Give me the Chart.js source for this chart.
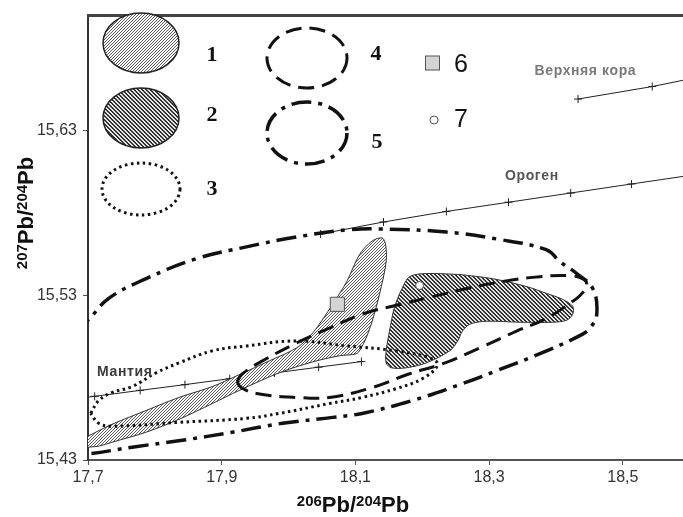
<!DOCTYPE html>
<html>
  <head>
    <meta charset="UTF-8" />
    <title>207Pb/204Pb vs 206Pb/204Pb</title>
    <style>
      html, body { margin: 0; padding: 0; background: #fff; overflow: hidden; }
      #chart { display: block; }
    </style>
  </head>
  <body>
    <canvas id="chart" width="683" height="517"></canvas>
    <script src="https://cdn.jsdelivr.net/npm/chart.js"></script>
    <script>
      // axis ticks
      const xTicks = [17.7, 17.9, 18.1, 18.3, 18.5];
      const yTicks = [15.43, 15.53, 15.63];

      // growth curves
      const mantleX = [17.700, 17.710, 17.778, 17.845, 17.912, 17.979, 18.045, 18.109];
      const mantleY = [15.4682, 15.4687, 15.4723, 15.4758, 15.4794, 15.4829, 15.4864, 15.4898];
      const orogenX = [18.048, 18.142, 18.236, 18.329, 18.422, 18.513, 18.590];
      const orogenY = [15.5673, 15.5746, 15.5810, 15.5866, 15.5922, 15.5977, 15.6023];
      const crustX = [18.433, 18.544, 18.590];
      const crustY = [15.6493, 15.6569, 15.6607];

      // field 1 (light hatch)
      const field1X = [17.700, 17.736, 17.787, 17.836, 17.886, 17.926, 17.971, 18.012, 18.036, 18.066, 18.087, 18.106, 18.125, 18.140, 18.145, 18.146, 18.136, 18.125, 18.116, 18.107, 18.101, 18.076, 18.036, 17.986, 17.926, 17.886, 17.836, 17.787, 17.736, 17.716, 17.700];
      const field1Y = [15.4445, 15.4517, 15.4601, 15.4680, 15.4746, 15.4818, 15.4902, 15.4981, 15.5071, 15.5246, 15.5384, 15.5547, 15.5631, 15.5649, 15.5613, 15.5505, 15.5306, 15.5143, 15.5041, 15.4969, 15.4945, 15.4933, 15.4896, 15.4830, 15.4722, 15.4643, 15.4547, 15.4469, 15.4408, 15.4384, 15.4378];

      // field 2 (dark hatch)
      const field2X = [18.256, 18.305, 18.356, 18.386, 18.410, 18.425, 18.425, 18.416, 18.395, 18.346, 18.296, 18.271, 18.260, 18.253, 18.241, 18.206, 18.176, 18.154, 18.146, 18.146, 18.151, 18.158, 18.169, 18.181, 18.206, 18.256];
      const field2Y = [15.5427, 15.5402, 15.5354, 15.5312, 15.5276, 15.5234, 15.5186, 15.5149, 15.5137, 15.5137, 15.5143, 15.5125, 15.5083, 15.5023, 15.4963, 15.4890, 15.4860, 15.4860, 15.4890, 15.4963, 15.5083, 15.5222, 15.5336, 15.5414, 15.5433, 15.5427];

      // field 3 (dotted)
      const field3X = [17.704, 17.716, 17.736, 17.766, 17.802, 17.836, 17.886, 17.937, 18.012, 18.087, 18.161, 18.211, 18.223, 18.200, 18.161, 18.110, 18.061, 17.986, 17.937, 17.836, 17.736, 17.716, 17.704];
      const field3Y = [15.4583, 15.4661, 15.4710, 15.4746, 15.4830, 15.4890, 15.4963, 15.4993, 15.5023, 15.4993, 15.4963, 15.4920, 15.4878, 15.4794, 15.4734, 15.4680, 15.4643, 15.4583, 15.4553, 15.4529, 15.4505, 15.4523, 15.4583];

      // field 4 (dashed)
      const field4X = [17.923, 17.931, 17.961, 18.012, 18.061, 18.110, 18.161, 18.211, 18.260, 18.311, 18.361, 18.421, 18.442, 18.446, 18.436, 18.425, 18.386, 18.341, 18.286, 18.230, 18.181, 18.125, 18.061, 18.012, 17.952, 17.929, 17.923];
      const field4Y = [15.4776, 15.4824, 15.4902, 15.5011, 15.5101, 15.5186, 15.5240, 15.5288, 15.5336, 15.5378, 15.5408, 15.5420, 15.5396, 15.5354, 15.5300, 15.5264, 15.5161, 15.5083, 15.4981, 15.4884, 15.4824, 15.4740, 15.4680, 15.4680, 15.4704, 15.4740, 15.4776];

      // field 5 (dash-dot), runs past the left axis
      const field5X = [17.627, 17.649, 17.698, 17.731, 17.787, 17.862, 17.937, 18.012, 18.087, 18.136, 18.236, 18.311, 18.386, 18.406, 18.431, 18.455, 18.461, 18.451, 18.440, 18.386, 18.311, 18.260, 18.185, 18.110, 18.066, 17.991, 17.916, 17.841, 17.766, 17.698, 17.657, 17.627];
      const field5Y = [15.4692, 15.4993, 15.5143, 15.5282, 15.5402, 15.5523, 15.5595, 15.5655, 15.5698, 15.5704, 15.5685, 15.5643, 15.5577, 15.5505, 15.5433, 15.5342, 15.5186, 15.5101, 15.5065, 15.4963, 15.4842, 15.4764, 15.4661, 15.4583, 15.4559, 15.4523, 15.4469, 15.4420, 15.4378, 15.4336, 15.4330, 15.4692];

      // samples 6 and 7
      const sample6 = { x: 18.073, y: 15.5246 };
      const sample7 = { x: 18.196, y: 15.536 };

      const curveLabels = [
        { text: 'Верхняя кора', x: 18.444, y: 15.6664, color: '#7a7a7a' },
        { text: 'Ороген', x: 18.364, y: 15.6023, color: '#555' },
        { text: 'Мантия', x: 17.755, y: 15.4836, color: '#3a3a3a' },
      ];

      const pts = (xs, ys) => xs.map((x, i) => ({ x, y: ys[i] }));

      // diagonal hatch tile: dir > 0 gives "///", dir < 0 gives "\\\"
      function makeHatch(size, dir, ink, paper, rows) {
        const c = document.createElement('canvas');
        c.width = size; c.height = size;
        const g = c.getContext('2d');
        g.fillStyle = paper;
        g.fillRect(0, 0, size, size);
        g.fillStyle = ink;
        for (let i = 0; i < size; i++) {
          rows.forEach(k => {
            const x = dir > 0 ? (size - 1 - i + k) % size : (i + k) % size;
            g.fillRect(x, i, 1, 1);
          });
        }
        return g.createPattern(c, 'repeat');
      }
      const lightHatch = makeHatch(3, 1, '#5a5a5a', '#ffffff', [0]);
      const darkHatch = makeHatch(4, -1, '#333333', '#e4e4e4', [0, 1]);

      const DOTS = [2.5, 3.5];
      const DASH = [16, 8];
      const DASHDOT = [20, 7, 4, 7];

      const growth = (xs, ys) => ({
        data: pts(xs, ys),
        showLine: true,
        borderColor: '#222',
        borderWidth: 1,
        pointStyle: 'cross',
        pointRadius: xs.map((x, i) => (x >= 18.59 || (i === 0 && xs === mantleX) ? 0 : 4)),
        pointBorderColor: '#222',
        pointBorderWidth: 1,
        order: 10,
      });

      const outline = (xs, ys, dash, width, tension) => ({
        data: pts(xs, ys),
        showLine: true,
        fill: false,
        borderColor: '#111',
        borderWidth: width,
        borderDash: dash,
        borderCapStyle: 'butt',
        tension: tension,
        pointRadius: 0,
        order: 5,
      });

      // the plot area runs out to the right edge of the picture
      const stretchPlugin = {
        id: 'stretch',
        afterLayout(chart) {
          const x = chart.scales.x;
          const area = chart.chartArea;
          area.right = chart.width;
          area.width = area.right - area.left;
          x.right = chart.width;
          x.width = x.right - x.left;
          x.configure();
          x._labelItems = null;
          x._gridLineItems = null;
        },
      };

      const labelPlugin = {
        id: 'curveLabels',
        afterDatasetsDraw(chart) {
          const { ctx, scales } = chart;
          ctx.save();
          ctx.font = 'bold 14px "Liberation Sans", Arial';
          ctx.letterSpacing = '0.6px';
          ctx.textAlign = 'center';
          ctx.textBaseline = 'middle';
          curveLabels.forEach(l => {
            ctx.fillStyle = l.color;
            ctx.fillText(l.text, scales.x.getPixelForValue(l.x), scales.y.getPixelForValue(l.y));
          });
          ctx.restore();
        },
      };

      function drawPb(ctx, a, b, cx, base) {
        const parts = [[a, true], ['Pb', false], ['/', false], [b, true], ['Pb', false]];
        const big = 'bold 22px "Liberation Sans", Arial';
        const small = 'bold 15px "Liberation Sans", Arial';
        let w = 0;
        parts.forEach(p => { ctx.font = p[1] ? small : big; w += ctx.measureText(p[0]).width; });
        let x = cx - w / 2;
        ctx.textAlign = 'left';
        ctx.textBaseline = 'alphabetic';
        parts.forEach(p => {
          ctx.font = p[1] ? small : big;
          ctx.fillText(p[0], x, p[1] ? base - 6 : base);
          x += ctx.measureText(p[0]).width;
        });
      }

      const framePlugin = {
        id: 'frame',
        afterDraw(chart) {
          const { ctx, chartArea } = chart;
          ctx.save();
          ctx.strokeStyle = '#444';
          ctx.lineWidth = 3;
          ctx.beginPath();
          ctx.moveTo(chartArea.left - 1, chartArea.top);
          ctx.lineTo(chart.width, chartArea.top);
          ctx.stroke();

          ctx.fillStyle = '#111';
          drawPb(ctx, '206', '204', 353, 512);
          ctx.translate(33, 213);
          ctx.rotate(-Math.PI / 2);
          drawPb(ctx, '207', '204', 0, 0);
          ctx.restore();
        },
      };

      // legend drawn in the top left corner
      const legendPlugin = {
        id: 'fieldLegend',
        afterDraw(chart) {
          const { ctx } = chart;
          const ell = (cx, cy, rx, ry) => {
            ctx.beginPath();
            ctx.ellipse(cx, cy, rx, ry, 0, 0, Math.PI * 2);
          };
          ctx.save();
          ctx.strokeStyle = '#222';
          ctx.lineWidth = 1.5;
          ell(141, 43, 38, 30); ctx.fillStyle = lightHatch; ctx.fill(); ctx.stroke();
          ell(141, 118, 38, 30); ctx.fillStyle = darkHatch; ctx.fill(); ctx.stroke();
          ctx.strokeStyle = '#111';
          ctx.lineWidth = 3;
          ctx.lineCap = 'butt';
          ctx.setLineDash(DOTS); ell(141, 189, 39, 26); ctx.stroke();
          ctx.setLineDash(DASH); ell(307, 58, 40, 30); ctx.stroke();
          ctx.lineWidth = 3.5;
          ctx.setLineDash(DASHDOT); ell(307, 133, 40, 31); ctx.stroke();
          ctx.setLineDash([]);

          ctx.fillStyle = '#d4d4d4';
          ctx.strokeStyle = '#555';
          ctx.lineWidth = 1;
          ctx.fillRect(425.5, 56, 14, 14);
          ctx.strokeRect(425.5, 56, 14, 14);
          ctx.fillStyle = '#fff';
          ctx.beginPath();
          ctx.arc(434, 120, 4, 0, Math.PI * 2);
          ctx.fill();
          ctx.stroke();

          ctx.fillStyle = '#111';
          ctx.textAlign = 'center';
          ctx.textBaseline = 'alphabetic';
          ctx.font = 'bold 22px "Liberation Serif", serif';
          ctx.fillText('1', 212, 61);
          ctx.fillText('2', 212, 121);
          ctx.fillText('3', 212, 195);
          ctx.fillText('4', 376, 60);
          ctx.fillText('5', 377, 148);
          ctx.font = '25px "Liberation Sans", Arial';
          ctx.fillText('6', 461, 72);
          ctx.fillText('7', 461, 127);
          ctx.restore();
        },
      };

      const ctx = document.getElementById('chart').getContext('2d');
      const chart = new Chart(ctx, {
        type: 'scatter',
        data: {
          datasets: [
            growth(mantleX, mantleY),
            growth(orogenX, orogenY),
            growth(crustX, crustY),
            {
              data: pts(field1X, field1Y),
              showLine: true,
              fill: 'shape',
              backgroundColor: lightHatch,
              borderColor: '#333',
              borderWidth: 1,
              tension: 0.3,
              pointRadius: 0,
              order: 8,
            },
            {
              data: pts(field2X, field2Y),
              showLine: true,
              fill: 'shape',
              backgroundColor: darkHatch,
              borderColor: '#333',
              borderWidth: 1,
              tension: 0.3,
              pointRadius: 0,
              order: 8,
            },
            outline(field3X, field3Y, DOTS, 3, 0.4),
            outline(field4X, field4Y, DASH, 3, 0.4),
            outline(field5X, field5Y, DASHDOT, 3.5, 0.4),
            {
              data: [sample6],
              pointStyle: 'rect',
              pointRadius: 10,
              backgroundColor: '#d4d4d4',
              borderColor: '#555',
              borderWidth: 1,
              order: 1,
            },
            {
              data: [sample7],
              pointStyle: 'circle',
              pointRadius: 4,
              backgroundColor: '#fff',
              borderColor: '#555',
              borderWidth: 1,
              order: 1,
            },
          ],
        },
        options: {
          responsive: false,
          animation: false,
          layout: { padding: { top: 11, right: 0, left: 0, bottom: 0 } },
          elements: { line: { capBezierPoints: false } },
          plugins: {
            legend: { display: false },
            tooltip: { enabled: false },
          },
          scales: {
            x: {
              type: 'linear',
              min: 17.7,
              max: 18.59,
              afterBuildTicks: s => { s.ticks = xTicks.map(v => ({ value: v })); },
              afterFit: s => { s.height = 57; },
              grid: { drawOnChartArea: false, tickLength: 5, tickColor: '#555' },
              border: { color: '#555', width: 2 },
              ticks: {
                font: { family: 'Liberation Sans', size: 16 },
                color: '#333',
                padding: 3,
                maxRotation: 0,
                callback: v => v.toFixed(1).replace('.', ','),
              },
            },
            y: {
              type: 'linear',
              min: 15.43,
              max: 15.70,
              afterBuildTicks: s => { s.ticks = yTicks.map(v => ({ value: v })); },
              afterFit: s => { s.width = 88; },
              grid: { drawOnChartArea: false, tickLength: 5, tickColor: '#555' },
              border: { color: '#333', width: 2 },
              ticks: {
                font: { family: 'Liberation Sans', size: 16 },
                color: '#333',
                padding: 6,
                callback: v => v.toFixed(2).replace('.', ','),
              },
            },
          },
        },
        plugins: [stretchPlugin, labelPlugin, framePlugin, legendPlugin],
      });
    </script>
  </body>
</html>
